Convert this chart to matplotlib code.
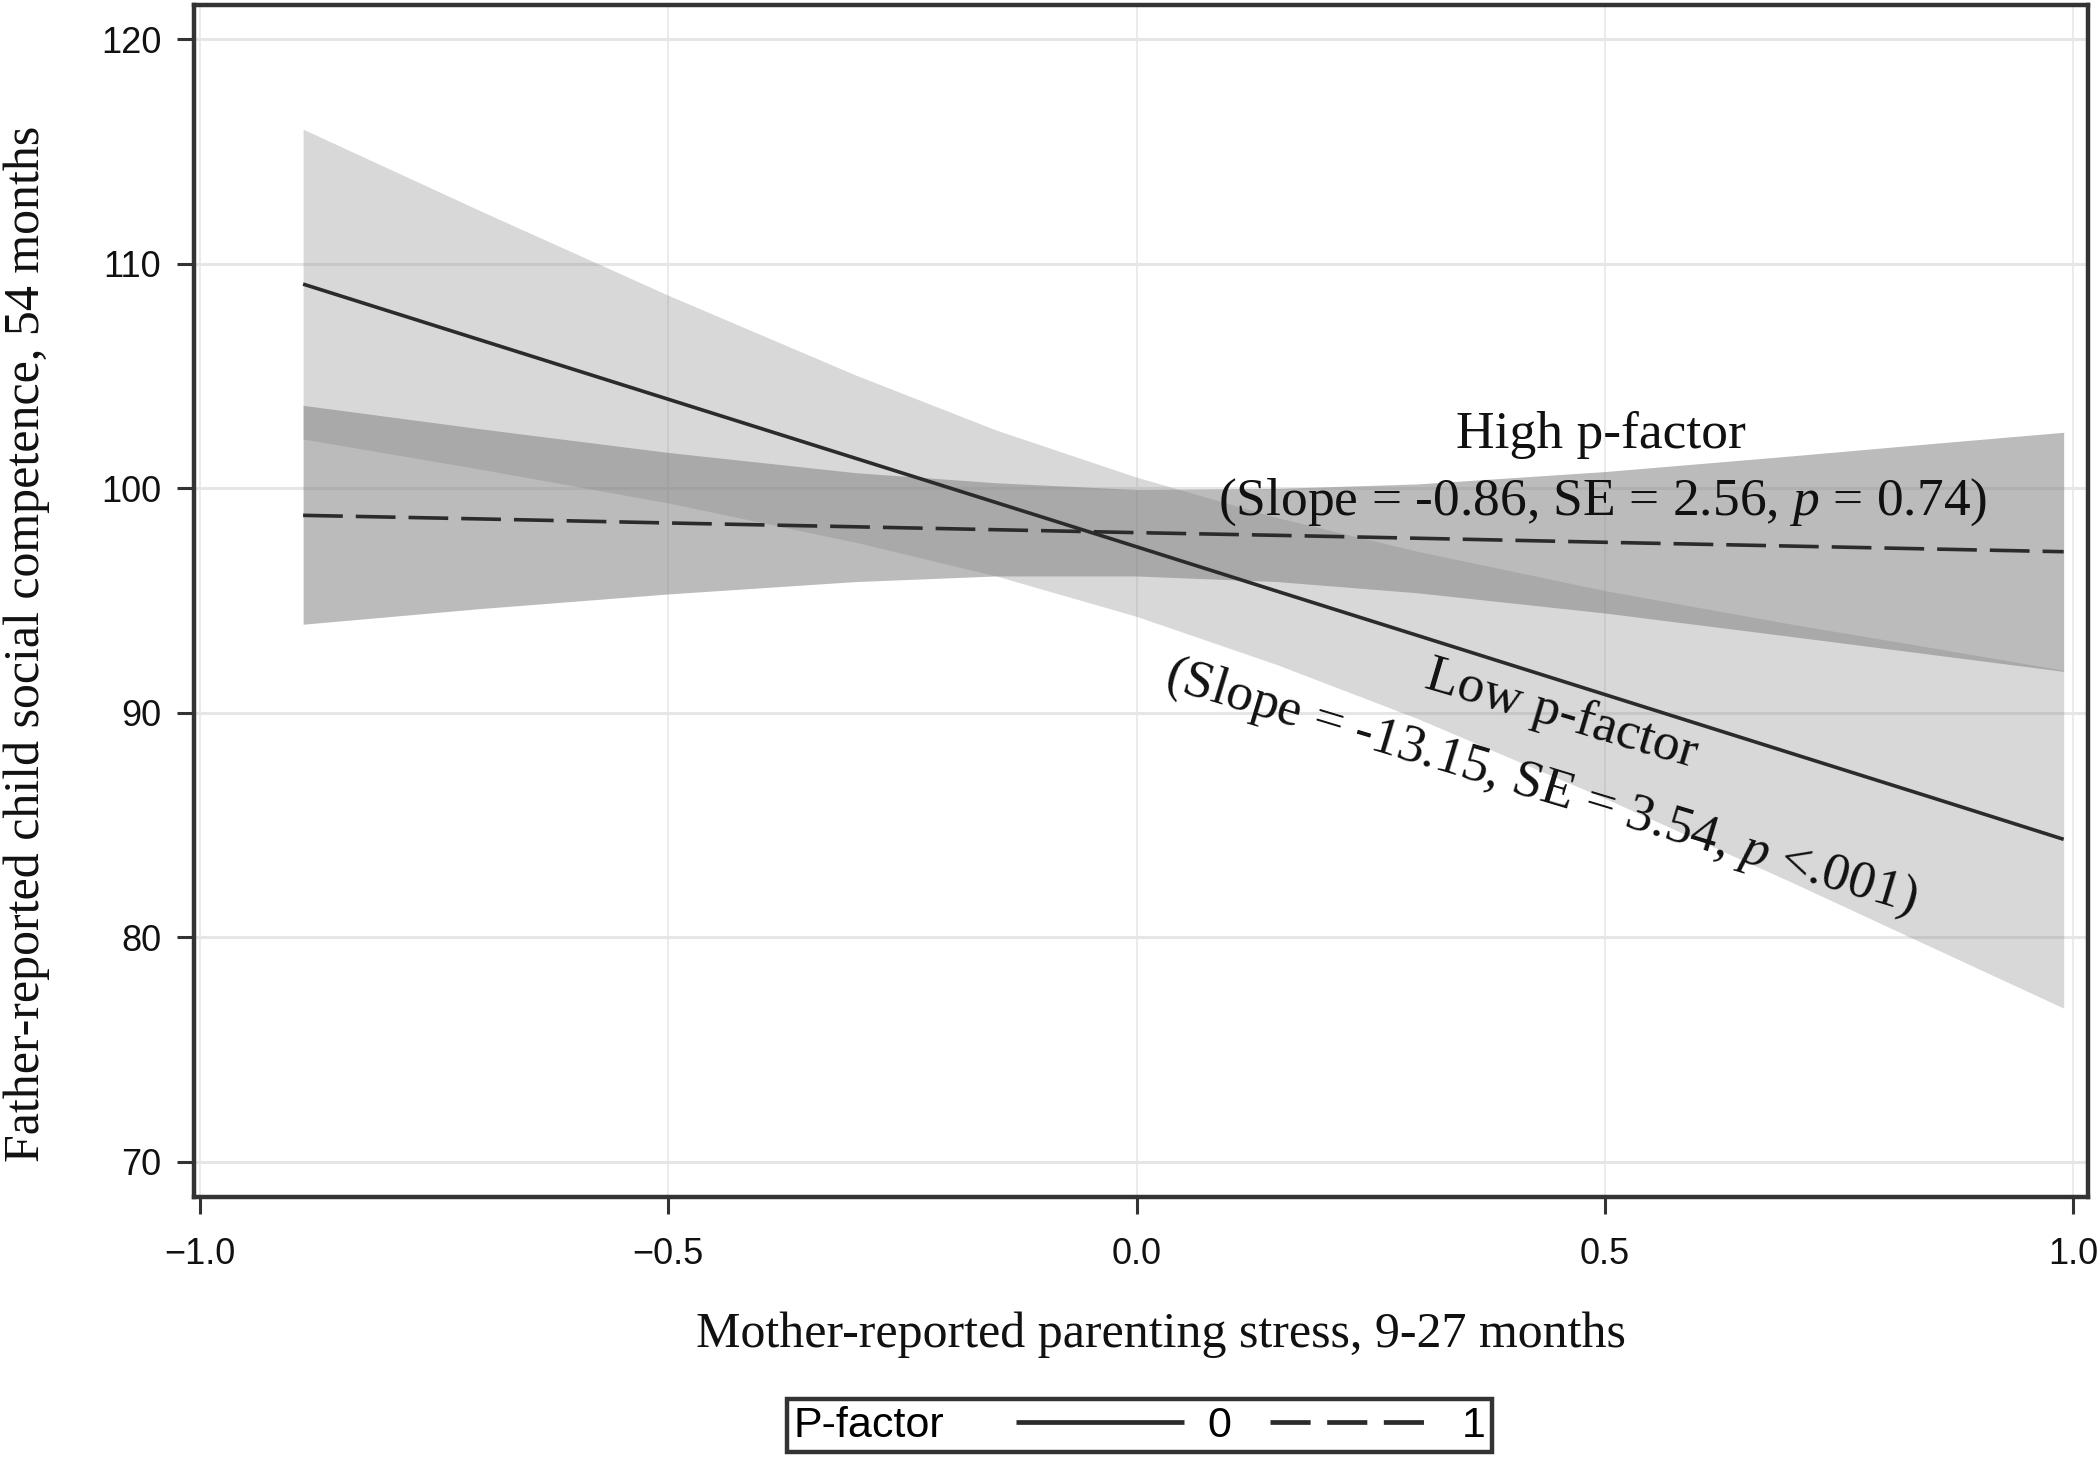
import numpy as np
import matplotlib.pyplot as plt
from matplotlib.lines import Line2D
from matplotlib.offsetbox import HPacker

# --- values ---
stress = [-0.89, -0.7, -0.5, -0.3, -0.15, 0.0, 0.15, 0.3, 0.5, 0.7, 0.85, 0.99]

# low p-factor (P-factor = 0), solid line + light band
low_fit = [109.10, 106.60, 103.97, 101.34, 99.37, 97.40, 95.42, 93.45, 90.82, 88.19, 86.22, 84.37]
low_upper = [116.0, 112.35, 108.6, 105.05, 102.6, 100.5, 98.7, 97.2, 95.45, 93.95, 92.9, 91.9]
low_lower = [102.2, 100.85, 99.35, 97.6, 96.1, 94.3, 92.15, 89.75, 86.2, 82.45, 79.55, 76.85]

# high p-factor (P-factor = 1), dashed line + darker band
high_fit = [98.80, 98.64, 98.46, 98.29, 98.16, 98.03, 97.91, 97.78, 97.60, 97.43, 97.30, 97.18]
high_upper = [103.7, 102.65, 101.6, 100.7, 100.25, 99.95, 100.0, 100.2, 100.75, 101.45, 102.0, 102.5]
high_lower = [93.95, 94.65, 95.3, 95.85, 96.1, 96.1, 95.85, 95.35, 94.45, 93.4, 92.6, 91.85]

x_ticks = [-1.0, -0.5, 0.0, 0.5, 1.0]
x_ticklabels = ['\u22121.0', '\u22120.5', '0.0', '0.5', '1.0']
y_ticks = [70, 80, 90, 100, 110, 120]
pf_levels = ['0', '1']

SANS = ['Liberation Sans', 'DejaVu Sans']
SERIF = ['Liberation Serif', 'DejaVu Serif']
INK = '#2b2b2b'

# italic p inside the serif annotations
plt.rcParams['mathtext.fontset'] = 'custom'
plt.rcParams['mathtext.rm'] = 'Liberation Serif'
plt.rcParams['mathtext.it'] = 'Liberation Serif:italic'

fig = plt.figure(figsize=(21, 14.57), dpi=100)
ax = fig.add_axes([0.0926, 0.17845, 0.9943 - 0.0926, 0.99657 - 0.17845])

# --- bands & lines ---
ax.fill_between(stress, low_lower, low_upper, color='#808080', alpha=0.30, lw=0)
ax.fill_between(stress, high_lower, high_upper, color='#808080', alpha=0.53, lw=0)
ax.plot(stress, low_fit, color=INK, lw=2.6, solid_capstyle='butt')
ax.plot(stress, high_fit, color=INK, lw=2.6, dashes=(11, 3.6), dash_capstyle='butt')

# --- axes styling ---
ax.set_xlim(-1.006, 1.016)
ax.set_ylim(68.44, 121.53)
ax.set_xticks(x_ticks)
ax.set_xticklabels(x_ticklabels)
ax.set_yticks(y_ticks)
ax.set_axisbelow(True)
ax.yaxis.grid(True, color='#e6e6e6', lw=2.2)
ax.xaxis.grid(True, color='#e8e8e8', lw=1.2)
for sp in ax.spines.values():
    sp.set_color('#333333')
    sp.set_linewidth(3.2)
ax.tick_params(axis='both', direction='out', length=12, width=2.2, color='#333333',
               labelsize=26, labelcolor='#111111')
ax.tick_params(axis='x', pad=17)
ax.tick_params(axis='y', pad=12)
for lab in ax.get_xticklabels() + ax.get_yticklabels():
    lab.set_family(SANS)

ax.set_xlabel('Mother-reported parenting stress, 9-27 months', family=SERIF, fontsize=36, color='#111111')
ax.xaxis.set_label_coords(0.5104, -0.1158)
ax.xaxis.label.set_va('center')
ax.set_ylabel('Father-reported child social competence, 54 months', family=SERIF, fontsize=36, color='#111111')
ax.yaxis.set_label_coords(-0.0885, 0.4639)
ax.yaxis.label.set_va('center')

# --- annotations ---
ann = dict(family=SERIF, fontsize=38.5, color='#111111', ha='center', va='center', rotation_mode='anchor')
ax.text(0.4963, 102.37, 'High p-factor', **ann)
ax.text(0.4973, 99.39, '(Slope = -0.86, SE = 2.56, $\\mathit{p}$ = 0.74)', **ann)
ax.text(0.4536, 89.9, 'Low p-factor', rotation=-16.5, **ann)
ax.text(0.4322, 86.69, '(Slope = -13.15, SE = 3.54, $\\mathit{p}$ <.001)', rotation=-16.8, **ann)

# --- legend: title sitting left of the keys, all on one row ---
key0 = Line2D([], [], color=INK, lw=3.4, solid_capstyle='butt')
key1 = Line2D([], [], color=INK, lw=3.4, dashes=(8.5, 3.5), dash_capstyle='butt')
leg = fig.legend(handles=[key0, key1], labels=pf_levels, ncol=2, title='P-factor',
                 loc='center', bbox_to_anchor=(0.5426, 0.0215),
                 prop=dict(family=SANS, size=31),
                 title_fontproperties=dict(family=SANS, size=31),
                 frameon=True, fancybox=False, edgecolor='#333333', framealpha=1,
                 handlelength=3.9, handletextpad=0.55, columnspacing=0.9, borderpad=0.15)
leg.get_frame().set_linewidth(3.2)
row = HPacker(pad=leg.borderpad * leg._fontsize, sep=52, align='center',
              children=[leg._legend_title_box, leg._legend_handle_box])
row.set_figure(fig)
row.set_offset(leg._findoffset)
leg._legend_box = row

fig.savefig('out.png', dpi=100)
